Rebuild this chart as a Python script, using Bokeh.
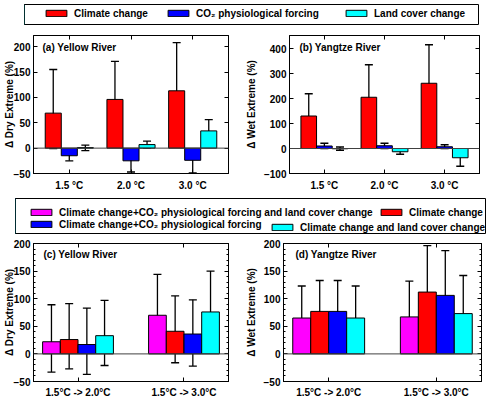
import numpy as np
from bokeh.plotting import figure
from bokeh.models import (ColumnDataSource, Whisker, TeeHead, Span, Label, Legend,
                          LegendItem, FixedTicker, LinearAxis, Range1d, Spacer)
from bokeh.layouts import row, column
from bokeh.transform import dodge
from bokeh.embed import file_html
from bokeh.resources import INLINE

FONT = "Liberation Sans"
RED, BLUE, CYAN, MAGENTA = "#FF0000", "#0000FF", "#00FFFF", "#FF00FF"

# ---------------- data ----------------
top_groups = [1, 2, 3]
top_labels = ["1.5 °C", "2.0 °C", "3.0 °C"]

# (a) Yellow River, change in dry extreme (%)
a_climate = [69, 96, 113]
a_climate_lo = [-1, 22, 23]
a_climate_hi = [155, 171, 208]
a_co2 = [-15, -25, -24]
a_co2_lo = [-25, -47, -49]
a_co2_hi = [-5, -8, -6]
a_land = [1, 7, 34]
a_land_lo = [-5, 0, 14]
a_land_hi = [6, 14, 56]

# (b) Yangtze River, change in wet extreme (%)
b_climate = [130, 205, 261]
b_climate_lo = [49, 83, 111]
b_climate_hi = [219, 335, 415]
b_co2 = [10, 11, 7]
b_co2_lo = [0, 0, 0]
b_co2_hi = [21, 21, 15]
b_land = [-1, -13, -37]
b_land_lo = [-7, -23, -71]
b_land_hi = [6, -4, -16]

bottom_groups = [1, 2]
bottom_labels = ["1.5°C -> 2.0°C", "1.5°C -> 3.0°C"]

# (c) Yellow River, change in dry extreme (%)
c_all = [22, 70]
c_all_lo = [-33, 6]
c_all_hi = [89, 144]
c_climate = [26, 41]
c_climate_lo = [-27, -16]
c_climate_hi = [91, 105]
c_cc_co2 = [17, 36]
c_cc_co2_lo = [-37, -22]
c_cc_co2_hi = [83, 98]
c_cc_land = [33, 76]
c_cc_land_lo = [-21, 12]
c_cc_land_hi = [97, 150]

# (d) Yangtze River, change in wet extreme (%)
d_all = [65, 67]
d_all_lo = [15, 2]
d_all_hi = [123, 132]
d_climate = [77, 112]
d_climate_lo = [27, 30]
d_climate_hi = [133, 196]
d_cc_co2 = [77, 106]
d_cc_co2_lo = [27, 27]
d_cc_co2_hi = [133, 187]
d_cc_land = [65, 73]
d_cc_land_lo = [16, 5]
d_cc_land_hi = [123, 142]

top_ticks_a = [-50, 0, 50, 100, 150, 200]
top_ticks_b = [-100, 0, 100, 200, 300, 400]
bottom_ticks = [-50, 0, 50, 100, 150, 200]
bottom_minor = list(range(-50, 201, 10))


def style_axis(ax, show_labels=True):
    ax.axis_line_color = "black"
    ax.axis_line_width = 1
    ax.major_tick_line_color = "black"
    ax.major_tick_in = 4
    ax.major_tick_out = 0
    ax.minor_tick_line_color = "black"
    ax.minor_tick_in = 2
    ax.minor_tick_out = 0
    ax.major_label_text_font = FONT
    ax.major_label_text_font_style = "bold"
    if show_labels:
        ax.major_label_text_color = "black"
        ax.major_label_text_font_size = "10px"
    else:
        ax.major_label_text_color = None
        ax.major_label_text_font_size = "0px"
        ax.major_label_standoff = 0


def make_panel(width, height, borders, xr, yr, groups, glabels, yticks, yminor,
               series, bw, title, ylabel, lab_standoff, xlab_standoff, title_xy):
    l, r, t, b = borders
    p = figure(width=width, height=height, x_range=Range1d(*xr), y_range=Range1d(*yr),
               output_backend="svg", toolbar_location=None,
               min_border_left=l, min_border_right=r, min_border_top=t, min_border_bottom=b)
    p.xgrid.visible = False
    p.ygrid.visible = False
    p.outline_line_color = "black"
    p.background_fill_color = "white"
    p.border_fill_color = "white"

    p.xaxis.ticker = FixedTicker(ticks=groups, minor_ticks=[])
    p.xaxis.major_label_overrides = {g: s for g, s in zip(groups, glabels)}
    style_axis(p.xaxis[0])
    p.xaxis.minor_tick_line_color = None
    p.xaxis.major_label_standoff = xlab_standoff

    p.yaxis.ticker = FixedTicker(ticks=yticks, minor_ticks=yminor)
    style_axis(p.yaxis[0])
    p.yaxis.major_label_standoff = 3
    p.yaxis.axis_label = ylabel
    p.yaxis.axis_label_text_font = FONT
    p.yaxis.axis_label_text_font_style = "bold"
    p.yaxis.axis_label_text_font_size = "10px"
    p.yaxis.axis_label_text_color = "black"
    p.yaxis.axis_label_standoff = lab_standoff
    if not yminor:
        p.yaxis.minor_tick_line_color = None

    ax_top = LinearAxis(ticker=FixedTicker(ticks=groups, minor_ticks=[]))
    style_axis(ax_top, show_labels=False)
    ax_top.minor_tick_line_color = None
    p.add_layout(ax_top, "above")
    ax_right = LinearAxis(ticker=FixedTicker(ticks=yticks, minor_ticks=yminor))
    style_axis(ax_right, show_labels=False)
    if not yminor:
        ax_right.minor_tick_line_color = None
    p.add_layout(ax_right, "right")

    n = len(series)
    for k, (vals, lo, hi, color) in enumerate(series):
        off = (k - (n - 1) / 2) * bw
        src = ColumnDataSource(dict(x=groups, top=vals, lo=lo, hi=hi))
        p.vbar(x=dodge("x", off), top="top", bottom=0, width=bw, source=src,
               fill_color=color, line_color="black", line_width=1)
        p.add_layout(Whisker(source=src, base=dodge("x", off), upper="hi", lower="lo",
                             line_color="black", line_width=1.3,
                             upper_head=TeeHead(size=8, line_color="black", line_width=1.3),
                             lower_head=TeeHead(size=8, line_color="black", line_width=1.3)))

    p.add_layout(Span(location=0, dimension="width", line_color="#404040", line_width=1))
    p.add_layout(Label(x=title_xy[0], y=title_xy[1], x_units="screen", y_units="screen",
                       text=title, text_font=FONT, text_font_style="bold",
                       text_font_size="10px", text_color="black", text_baseline="middle"))
    return p


ITEM_H = 12
LEG_DX = 8


def legend_fig(width, height, groups, entries):
    # the legend renderers hold the real series but lie outside this box's x range,
    # so only their legend swatches are visible
    p = figure(width=width, height=height, x_range=Range1d(100, 101), y_range=Range1d(0, 1),
               output_backend="svg", toolbar_location=None,
               x_axis_location=None, y_axis_location=None,
               min_border_left=0, min_border_right=0, min_border_top=0, min_border_bottom=0)
    p.xgrid.visible = False
    p.ygrid.visible = False
    p.outline_line_color = "black"
    p.outline_line_width = 1
    for label, vals, color, x, ytop in entries:
        r = p.vbar(x=groups, top=vals, width=0.2, fill_color=color, line_color="black",
                   line_width=1)
        leg = Legend(items=[LegendItem(label=label, renderers=[r])],
                     location=(x + LEG_DX, height - ytop - ITEM_H),
                     border_line_color=None, background_fill_alpha=0, padding=0, margin=0,
                     spacing=0, glyph_width=26, glyph_height=8, label_standoff=5,
                     label_height=ITEM_H, label_text_font=FONT, label_text_font_style="bold",
                     label_text_font_size="10px", label_text_color="black")
        p.add_layout(leg)
    return p


top_leg = legend_fig(455, 21, top_groups, [
    ("Climate change", a_climate, RED, 11, 3),
    ("CO₂ physiological forcing", a_co2, BLUE, 133, 3),
    ("Land cover change", a_land, CYAN, 311, 3),
])

pa = make_panel(242, 173, (27, 14, 10, 25), (0.42, 3.58), (-50, 222), top_groups, top_labels,
                top_ticks_a, [],
                [(a_climate, a_climate_lo, a_climate_hi, RED),
                 (a_co2, a_co2_lo, a_co2_hi, BLUE),
                 (a_land, a_land_lo, a_land_hi, CYAN)],
                0.26, "(a) Yellow River", "Δ Dry Extreme (%)", -4, 6, (9, 126))
pb = make_panel(250, 173, (39, 13, 10, 25), (0.42, 3.58), (-100, 452), top_groups, top_labels,
                top_ticks_b, [],
                [(b_climate, b_climate_lo, b_climate_hi, RED),
                 (b_co2, b_co2_lo, b_co2_hi, BLUE),
                 (b_land, b_land_lo, b_land_hi, CYAN)],
                0.26, "(b) Yangtze River", "Δ Wet Extreme (%)", 4, 6, (10, 126))

bottom_leg = legend_fig(471, 36, bottom_groups, [
    ("Climate change+CO₂ physiological forcing and land cover change", c_all, MAGENTA, 5, 8),
    ("Climate change", c_climate, RED, 355, 8),
    ("Climate change+CO₂ physiological forcing", c_cc_co2, BLUE, 5, 20),
    ("Climate change and land cover change", c_cc_land, CYAN, 246, 23),
])

pc = make_panel(242, 166, (26, 14, 9, 17), (0.58, 2.42), (-50, 200), bottom_groups, bottom_labels,
                bottom_ticks, bottom_minor,
                [(c_all, c_all_lo, c_all_hi, MAGENTA),
                 (c_climate, c_climate_lo, c_climate_hi, RED),
                 (c_cc_co2, c_cc_co2_lo, c_cc_co2_hi, BLUE),
                 (c_cc_land, c_cc_land_lo, c_cc_land_hi, CYAN)],
                0.167, "(c) Yellow River", "Δ Dry Extreme (%)", -4, 5, (10, 127))
pd_ = make_panel(250, 166, (39, 11, 9, 17), (0.58, 2.42), (-50, 200), bottom_groups, bottom_labels,
                 bottom_ticks, bottom_minor,
                 [(d_all, d_all_lo, d_all_hi, MAGENTA),
                  (d_climate, d_climate_lo, d_climate_hi, RED),
                  (d_cc_co2, d_cc_co2_lo, d_cc_co2_hi, BLUE),
                  (d_cc_land, d_cc_land_lo, d_cc_land_hi, CYAN)],
                 0.167, "(d) Yangtze River", "Δ Wet Extreme (%)", 4, 5, (12, 127))

layout = column(
    Spacer(width=492, height=4),
    row(Spacer(width=24, height=21), top_leg),
    row(pa, pb),
    row(Spacer(width=15, height=36), bottom_leg),
    row(pc, pd_),
)

open("out.html", "w").write(file_html(layout, INLINE))
